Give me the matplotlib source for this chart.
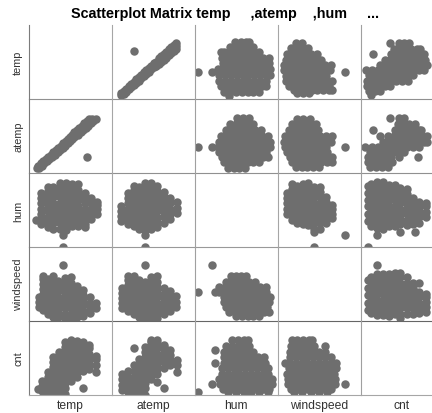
import numpy as np
import matplotlib
matplotlib.use("Agg")
import matplotlib.pyplot as plt

plt.rcParams['font.family'] = ['Liberation Sans', 'DejaVu Sans']

names = ["temp", "atemp", "hum", "windspeed", "cnt"]
title = "Scatterplot Matrix temp     ,atemp    ,hum     ..."

# values, all variables on a 0-100 relative scale
# each row is (value of the 2nd variable, [values of the 1st variable])
temp_atemp = [
    (12, [10, 13]), (15, [12, 16]), (18, [15, 19]), (21, [18, 22]), (24, [21, 25]),
    (27, [24, 28, 70]), (30, [27, 32]), (33, [30, 35]), (36, [33, 38]), (39, [36, 41]),
    (42, [39, 44]), (45, [42, 47]), (48, [45, 50]), (51, [48, 53]), (54, [50, 55]),
    (57, [52, 56, 60]), (60, [55, 60, 63]), (63, [58, 63, 66]), (66, [61, 66, 69]),
    (69, [64, 68, 72]), (72, [67, 71, 75]), (75, [70, 74, 78]), (78, [73, 77, 81]),
]
hum_temp = [
    (82, [49, 56, 62, 66]),
    (75, [43, 50, 57, 64, 71]),
    (68, [32, 36, 43, 50, 57, 64, 71, 78]),
    (60, [33, 40, 47, 54, 61, 68, 75, 82, 90]),
    (53, [34, 41, 48, 55, 62, 69, 76, 83, 90]),
    (45, [28, 35, 42, 49, 56, 63, 70, 77, 84, 91]),
    (41, [4.6, 21]),
    (38, [30, 37, 44, 51, 58, 65, 72, 79, 86, 91]),
    (30, [30, 37, 44, 51, 58, 65, 72, 79, 86]),
    (23, [32, 39, 46, 53, 60, 67, 74, 81, 86]),
    (15, [36, 43, 50, 57, 64, 71, 78]),
    (9, [41]),
]
hum_atemp = [
    (79, [51, 58, 66]),
    (71, [43, 50, 57, 64, 71]),
    (63, [38, 45, 52, 59, 66, 73, 80]),
    (55, [32, 39, 46, 53, 60, 67, 74, 81, 88]),
    (47, [30, 37, 44, 51, 58, 65, 72, 79, 86, 91]),
    (40, [4.6, 21, 28, 35, 42, 49, 56, 63, 70, 77, 84, 91]),
    (33, [30, 37, 44, 51, 58, 65, 72, 79, 86]),
    (27, [33, 40, 47, 54, 61, 68, 75, 82, 88]),
    (20, [36, 43, 50, 57, 64, 71, 78]),
    (12, [40, 47, 54, 61]),
]
wind_temp = [
    (81, [22, 29]),
    (74, [16, 23, 30, 37]),
    (66, [12, 19, 26, 33, 40, 47]),
    (58, [10, 17, 24, 31, 38, 45, 52]),
    (51, [8, 15, 22, 29, 36, 43, 50, 57, 64]),
    (44, [8, 15, 22, 29, 36, 43, 50, 57, 63]),
    (41, [81]),
    (36, [10, 17, 24, 31, 38, 45, 52, 59]),
    (29, [10, 17, 24, 31, 38, 45, 52, 59, 66]),
    (23, [14, 21, 28, 35, 42, 49, 56, 62]),
    (17, [20, 27, 34, 41, 48, 55, 62, 66]),
    (13, [24, 31, 38]),
]
wind_atemp = [
    (78, [24, 31, 39]),
    (71, [18, 25, 32, 39, 46]),
    (63, [14, 21, 28, 35, 42, 49]),
    (55, [9, 16, 23, 30, 37, 44, 51, 58, 66]),
    (47, [8, 15, 22, 29, 36, 43, 50, 57, 64]),
    (40, [9, 16, 23, 30, 37, 44, 51, 58, 81]),
    (33, [11, 18, 25, 32, 39, 46, 53, 60]),
    (27, [15, 22, 29, 36, 43, 50, 57, 66]),
    (20, [18, 25, 32, 39, 46, 53, 60, 66]),
    (13, [22, 29, 36, 43, 50]),
]
cnt_temp = [
    (81, [36, 46, 53, 58]),
    (73, [40, 47, 54, 61, 68, 72]),
    (66, [15, 37, 44, 51, 58, 65, 72, 77]),
    (58, [29, 36, 43, 50, 57, 64, 71, 78]),
    (51, [24, 31, 38, 45, 52, 59, 66, 73, 80]),
    (44, [7, 14, 21, 28, 35, 42, 49, 56, 63, 70, 77]),
    (37, [10, 17, 24, 31, 38, 45, 52, 59, 63]),
    (29, [8, 15, 22, 29, 36, 43, 50, 57]),
    (23, [8, 15, 22, 29, 36]),
    (16, [10, 17, 24]),
    (11, [13]),
]
cnt_atemp = [
    (79, [36, 46, 52]),
    (71, [45, 52, 59, 66]),
    (63, [15, 42, 49, 56, 63, 70, 73]),
    (55, [23, 33, 40, 47, 54, 61, 68, 75, 80]),
    (47, [27, 34, 41, 48, 55, 62, 69, 76, 80]),
    (40, [5, 14, 21, 28, 35, 42, 49, 56, 63, 70]),
    (33, [11, 18, 25, 32, 39, 46, 53]),
    (27, [9, 16, 23, 30, 37, 46, 69]),
    (20, [9, 16, 23, 30, 38]),
    (13, [12, 19, 26, 33]),
]
hum_wind = [
    (81, [21]),
    (66, [44, 50, 56, 62]),
    (58, [38, 45, 52, 59, 66, 73]),
    (51, [30, 37, 44, 51, 58, 65, 72, 79, 86]),
    (44, [4.6, 25, 30, 37, 44, 51, 58, 65, 72, 79, 86]),
    (37, [35, 42, 49, 56, 63, 70, 77, 84, 91]),
    (31, [36, 43, 50, 57, 64, 71, 78, 85, 90]),
    (24, [38, 45, 52, 59, 66, 73, 80, 87]),
    (17, [42, 49, 56, 63, 70, 77, 84, 90]),
    (12, [50, 57, 64, 71, 78]),
]
hum_cnt = [
    (79, [45, 52, 60, 64]),
    (71, [38, 45, 52, 59, 66]),
    (66, [25]),
    (63, [36, 43, 50, 57, 64, 71]),
    (56, [35, 42, 49, 56, 63, 70, 77, 84]),
    (48, [25, 36, 43, 50, 57, 64, 71, 78, 85]),
    (41, [33, 40, 47, 54, 61, 68, 75, 82, 89]),
    (34, [33, 40, 47, 54, 61, 68, 75, 82, 89]),
    (27, [30, 37, 44, 51, 58, 65, 72, 79, 86, 93]),
    (20, [21, 31, 38, 45, 52, 59, 66, 73, 80, 87, 93]),
    (13, [34, 41, 48, 55, 62, 69, 76, 83, 90]),
    (9, [4.6, 40, 50, 60, 68, 78, 88]),
]
wind_cnt = [
    (79, [17, 24, 31, 38, 41]),
    (71, [16, 23, 30, 37, 44, 57]),
    (63, [15, 22, 29, 36, 43, 50, 57]),
    (56, [15, 22, 29, 36, 43, 50, 57, 64]),
    (48, [9, 15, 22, 29, 36, 43, 50, 57, 64, 70]),
    (41, [14, 21, 28, 35, 42, 49, 56, 63, 70]),
    (34, [12, 19, 26, 33, 40, 47, 54, 61, 68]),
    (27, [13, 20, 27, 34, 41, 48, 55, 62, 69]),
    (20, [13, 20, 27, 34, 41, 48, 55, 62, 69, 81]),
    (13, [16, 23, 30, 37, 44, 51, 58, 65]),
    (9, [20, 30, 40, 50, 60]),
]


def unpack(rows):
    first = []
    second = []
    for value, others in rows:
        for other in others:
            first.append(other)
            second.append(value)
    return np.array(first), np.array(second)


pairs = {
    ("temp", "atemp"): unpack(temp_atemp),
    ("hum", "temp"): unpack(hum_temp),
    ("hum", "atemp"): unpack(hum_atemp),
    ("windspeed", "temp"): unpack(wind_temp),
    ("windspeed", "atemp"): unpack(wind_atemp),
    ("cnt", "temp"): unpack(cnt_temp),
    ("cnt", "atemp"): unpack(cnt_atemp),
    ("hum", "windspeed"): unpack(hum_wind),
    ("hum", "cnt"): unpack(hum_cnt),
    ("windspeed", "cnt"): unpack(wind_cnt),
}

W, H = 432, 414
fig = plt.figure(figsize=(W / 100, H / 100), dpi=100)
fig.text(225 / W, 1 - 14 / H, title, ha="center", va="center", fontsize=10.4, fontweight="bold")

cell_w, cell_h = 83, 74
left, top = 28.5, 26
v_colors = ["#7c7c7c", "#a6a6a6", "#a0a0a0", "#a6a6a6", "#a0a0a0"]
h_colors = ["#909090", "#909090", "#999999", "#666666", "#a6a6a6"]

for r, yname in enumerate(names):
    for c, xname in enumerate(names):
        ax = fig.add_axes([(left + c * cell_w) / W, 1 - (top + (r + 1) * cell_h) / H,
                           cell_w / W, cell_h / H])
        ax.set_xlim(0, 100)
        ax.set_ylim(5, 105)
        ax.set_xticks([])
        ax.set_yticks([])
        ax.patch.set_alpha(0)
        ax.spines["top"].set_visible(False)
        ax.spines["right"].set_visible(False)
        ax.spines["left"].set_color(v_colors[c])
        ax.spines["bottom"].set_color(h_colors[r])
        if (xname, yname) in pairs:
            x, y = pairs[(xname, yname)]
            ax.scatter(x, y, s=37, color="#6e6e6e", linewidths=0)
        elif (yname, xname) in pairs:
            y, x = pairs[(yname, xname)]
            ax.scatter(x, y, s=37, color="#6e6e6e", linewidths=0)
        if c == 0:
            ax.text(-10.5 / cell_w, 0.5, yname, transform=ax.transAxes, rotation=90,
                    ha="center", va="center", fontsize=7.8, color="#333333")
        if r == 4:
            ax.text(0.5, -10 / cell_h, xname, transform=ax.transAxes,
                    ha="center", va="center", fontsize=8.7, color="#333333")

fig.savefig("out.png", dpi=100)
